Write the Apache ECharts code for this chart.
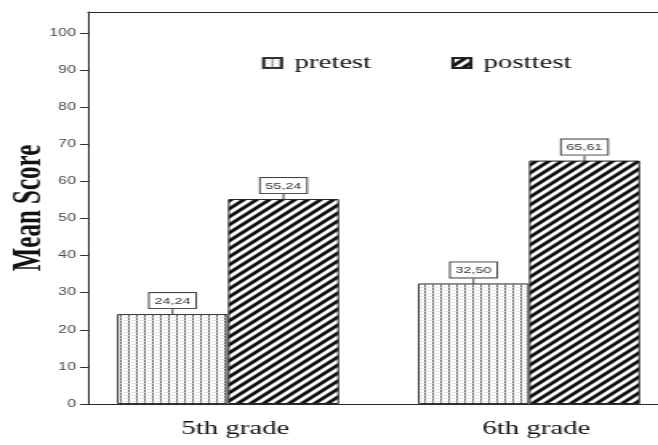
<!DOCTYPE html>
<html><head><meta charset="utf-8">
<script src="https://cdn.jsdelivr.net/npm/echarts@6/dist/echarts.min.js"></script>
<style>
html,body{margin:0;padding:0;background:#fff;overflow:hidden;}
#c{width:411px;height:445px;transform:scaleX(1.60097);transform-origin:0 0;}
</style></head><body><div id="c"></div>
<script>
// ---- data ----
const categories = ['5th grade', '6th grade'];
const pretest = [24.24, 32.50];
const posttest = [55.24, 65.61];
const seriesNames = ['pretest', 'posttest'];
const yTicks = [0, 10, 20, 30, 40, 50, 60, 70, 80, 90, 100];
const yAxisTitle = 'Mean Score';

// ---- layout helpers (page is stretched horizontally like the reference) ----
const S = 658 / 411;
const X = v => v / S;
const yMax = (404 - 12) / 3.71;

function dotPattern() {
  const c = document.createElement('canvas');
  c.width = 5; c.height = 3;
  const g = c.getContext('2d');
  g.fillStyle = '#ffffff'; g.fillRect(0, 0, 5, 3);
  g.fillStyle = '#e8e8e8'; g.fillRect(0, 2, 5, 1);
  g.fillStyle = '#6a6a6a'; g.fillRect(0, 0, 1, 2);
  g.fillStyle = '#b5b5b5'; g.fillRect(0, 2, 1, 1);
  return c;
}
function hatchPattern() {
  const n = 8;
  const c = document.createElement('canvas');
  c.width = n; c.height = n;
  const g = c.getContext('2d');
  g.fillStyle = '#ffffff'; g.fillRect(0, 0, n, n);
  g.strokeStyle = '#111'; g.lineWidth = 2.8;
  [[0, n, n, 0], [-n / 2, n / 2, n / 2, -n / 2], [n / 2, n * 1.5, n * 1.5, n / 2]].forEach(([a, b, d, e]) => {
    g.beginPath(); g.moveTo(a, b); g.lineTo(d, e); g.stroke();
  });
  return c;
}

const fmt = p => p.value.toFixed(2).replace('.', ',');
const valueLabel = {
  show: true, position: 'top', distance: 0, formatter: fmt,
  fontFamily: 'Liberation Sans', fontSize: 9, lineHeight: 10, color: '#333',
  backgroundColor: '#fff', borderColor: '#444', borderWidth: 1, padding: [3, 3, 2, 3]
};
const frameLine = { show: true, onZero: false, lineStyle: { color: '#2a2a2a', width: 1 } };

const chart = echarts.init(document.getElementById('c'));
chart.setOption({
  animation: false,
  backgroundColor: '#fff',
  grid: [
    { left: X(88), right: 0, top: 12, bottom: 41, outerBoundsMode: 'none', containLabel: false },
    { left: X(77.5), right: 411 - X(77.5) - X(602), top: 12, bottom: 41, outerBoundsMode: 'none', containLabel: false }
  ],
  legend: {
    data: seriesNames, left: X(262), top: 54, icon: 'rect', padding: 0,
    itemWidth: X(18), itemHeight: 10, itemGap: 50,
    textStyle: { fontFamily: 'Liberation Serif', fontSize: 18, color: '#111', padding: [0, 0, 0, 3] }
  },
  xAxis: [
    { gridIndex: 0, type: 'value', min: 0, max: 1, axisLine: frameLine, axisTick: { show: false }, axisLabel: { show: false }, splitLine: { show: false } },
    { gridIndex: 0, type: 'value', position: 'top', min: 0, max: 1, axisLine: frameLine, axisTick: { show: false }, axisLabel: { show: false }, splitLine: { show: false } },
    { gridIndex: 1, type: 'category', data: categories, axisLine: { show: false }, axisTick: { show: false },
      axisLabel: { fontFamily: 'Liberation Serif', fontSize: 18, color: '#111', margin: 16, padding: [0, 0, 0, 9] }, splitLine: { show: false } }
  ],
  yAxis: [
    { gridIndex: 0, type: 'value', min: 0, max: yMax,
      axisLine: { show: true, lineStyle: { color: '#2a2a2a', width: 1 } },
      axisTick: { show: true, length: X(8), customValues: yTicks, lineStyle: { color: '#2a2a2a' } },
      axisLabel: { customValues: yTicks, margin: X(12), fontFamily: 'Liberation Sans', fontSize: 10, color: '#4a4a4a' },
      splitLine: { show: false },
      name: yAxisTitle, nameLocation: 'middle', nameGap: 24, nameMoveOverlap: false,
      nameTextStyle: { fontFamily: 'Liberation Serif', fontWeight: 'bold', fontSize: 25, color: '#111' } },
    { gridIndex: 1, type: 'value', min: 0, max: yMax, show: false }
  ],
  series: [
    { name: seriesNames[0], type: 'bar', xAxisIndex: 2, yAxisIndex: 1, data: pretest,
      barWidth: X(111), barGap: '0%',
      itemStyle: { color: { image: dotPattern(), repeat: 'repeat' }, borderColor: '#333', borderWidth: 1 },
      label: valueLabel, labelLayout: { dy: -6 }, labelLine: { show: true, lineStyle: { color: '#444', width: 1 } } },
    { name: seriesNames[1], type: 'bar', xAxisIndex: 2, yAxisIndex: 1, data: posttest,
      barWidth: X(111), barGap: '0%',
      itemStyle: { color: { image: hatchPattern(), repeat: 'repeat' }, borderColor: '#222', borderWidth: 1 },
      label: valueLabel, labelLayout: { dy: -6 }, labelLine: { show: true, lineStyle: { color: '#444', width: 1 } } }
  ]
});
</script></body></html>
